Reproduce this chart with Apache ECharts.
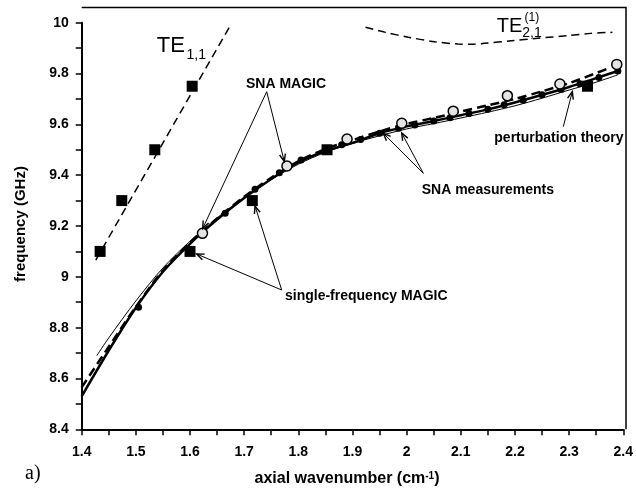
<!DOCTYPE html>
<html><head><meta charset="utf-8">
<script src="https://cdn.jsdelivr.net/npm/echarts@6/dist/echarts.min.js"></script>
<style>html,body{margin:0;padding:0;background:#fff}#c{width:636px;height:490px}</style>
</head><body><div id="c"></div>
<script>
// ---- data ----
const te11Line = [[1.426, 9.066], [1.676, 9.995]];
const te11Squares = [[1.434, 9.10], [1.474, 9.30], [1.535, 9.50], [1.604, 9.75]];
const te21Curve = [[1.924, 9.982], [1.961, 9.962], [2.003, 9.943], [2.052, 9.925], [2.095, 9.916], [2.12, 9.915], [2.144, 9.919], [2.193, 9.929], [2.242, 9.939], [2.298, 9.949], [2.340, 9.958], [2.380, 9.962]];
const measFit = [[1.40, 8.53], [1.45, 8.71], [1.50, 8.878], [1.55, 9.02], [1.60, 9.13], [1.65, 9.225], [1.70, 9.31], [1.75, 9.385], [1.80, 9.45], [1.85, 9.495], [1.90, 9.527], [1.95, 9.565], [2.00, 9.592], [2.05, 9.613], [2.10, 9.636], [2.15, 9.659], [2.20, 9.686], [2.25, 9.716], [2.30, 9.747], [2.35, 9.782], [2.39, 9.81]];
const magicFit = [[1.40, 8.565], [1.45, 8.725], [1.50, 8.882], [1.55, 9.025], [1.60, 9.135], [1.65, 9.23], [1.70, 9.315], [1.75, 9.39], [1.80, 9.455], [1.85, 9.503], [1.90, 9.538], [1.95, 9.572], [2.00, 9.602], [2.05, 9.625], [2.10, 9.65], [2.15, 9.675], [2.20, 9.70], [2.25, 9.73], [2.30, 9.762], [2.37, 9.818]];
const perturbation = [[1.428, 8.69], [1.45, 8.76], [1.50, 8.905], [1.55, 9.035], [1.60, 9.14], [1.65, 9.232], [1.70, 9.312], [1.75, 9.383], [1.80, 9.443], [1.85, 9.49], [1.90, 9.525], [1.95, 9.555], [2.00, 9.582], [2.05, 9.603], [2.10, 9.625], [2.15, 9.648], [2.20, 9.673], [2.25, 9.703], [2.30, 9.735], [2.35, 9.766], [2.39, 9.795]];
const singleFreqMagic = [[1.600, 9.10], [1.715, 9.30], [1.853, 9.50], [2.334, 9.75]];
const snaMeasurements = [[1.505, 8.88], [1.665, 9.25], [1.72, 9.345], [1.765, 9.41], [1.805, 9.46], [1.85, 9.50], [1.88, 9.52], [1.915, 9.54], [1.95, 9.565], [1.985, 9.585], [2.015, 9.597], [2.05, 9.613], [2.08, 9.626], [2.115, 9.643], [2.15, 9.659], [2.18, 9.677], [2.215, 9.695], [2.25, 9.716], [2.285, 9.737], [2.32, 9.76], [2.355, 9.784], [2.39, 9.81]];
const snaMagic = [[1.623, 9.171], [1.779, 9.436], [1.890, 9.542], [1.991, 9.604], [2.086, 9.652], [2.186, 9.713], [2.283, 9.759], [2.388, 9.836]];

const xMin = 1.4, xMax = 2.4, xStep = 0.05;
const yMin = 8.4, yMax = 10, yStep = 0.1;

// ---- helpers ----
const F = '"Liberation Sans", Arial, sans-serif';
function arrow(x1, y1, x2, y2) {
  const a = Math.atan2(y2 - y1, x2 - x1), L = 8, w = 0.38;
  return [
    {type: 'line', z: 100, shape: {x1, y1, x2, y2}, style: {stroke: '#000', lineWidth: 1}},
    {type: 'polyline', z: 100, shape: {points: [[x2 - L * Math.cos(a - w), y2 - L * Math.sin(a - w)], [x2, y2], [x2 - L * Math.cos(a + w), y2 - L * Math.sin(a + w)]]},
     style: {stroke: '#000', lineWidth: 1.4, fill: null}}
  ];
}
function txt(text, x, y, font, extra) {
  return {type: 'text', z: 100, style: Object.assign({text, x, y, font, fill: '#000', verticalAlign: 'middle', align: 'left'}, extra || {})};
}
const isMult = (v, s) => Math.abs(v / s - Math.round(v / s)) < 1e-6;

const chart = echarts.init(document.getElementById('c'), null, {renderer: 'canvas'});
const lineBase = {type: 'line', symbol: 'none', silent: true, animation: false, smooth: 0.3};

chart.setOption({
  animation: false,
  backgroundColor: '#fff',
  grid: {left: 81.7, right: 10, top: 22.7, bottom: 60.7, containLabel: false},
  xAxis: {
    type: 'value', min: xMin, max: xMax, interval: xStep,
    axisLine: {onZero: false, lineStyle: {color: '#000', width: 2}},
    axisTick: {inside: false, length: 6, lineStyle: {color: '#000', width: 1.5}},
    splitLine: {show: false},
    axisLabel: {margin: 16, color: '#000', fontFamily: F, fontWeight: 'bold', fontSize: 14,
      formatter: v => isMult(v, 0.1) ? String(+v.toFixed(1)) : ''}
  },
  yAxis: {
    type: 'value', min: yMin, max: yMax, interval: yStep,
    axisLine: {onZero: false, lineStyle: {color: '#000', width: 2}},
    axisTick: {inside: false, length: 6, lineStyle: {color: '#000', width: 1.5}},
    splitLine: {show: false},
    axisLabel: {margin: 13, color: '#000', fontFamily: F, fontWeight: 'bold', fontSize: 14,
      formatter: v => isMult(v, 0.2) ? String(+v.toFixed(1)) : ''}
  },
  series: [
    Object.assign({}, lineBase, {data: te11Line, smooth: false, lineStyle: {color: '#000', width: 1.5, type: [8, 5]}}),
    Object.assign({}, lineBase, {data: te21Curve, lineStyle: {color: '#000', width: 1.5, type: [8, 5]}}),
    Object.assign({}, lineBase, {data: perturbation, lineStyle: {color: '#000', width: 1}}),
    Object.assign({}, lineBase, {data: measFit, lineStyle: {color: '#000', width: 2.5}}),
    Object.assign({}, lineBase, {data: magicFit, lineStyle: {color: '#000', width: 2.5, type: [9, 5]}}),
    {type: 'scatter', data: te11Squares, symbol: 'rect', symbolSize: 11, itemStyle: {color: '#000', opacity: 1}, silent: true, z: 3},
    {type: 'scatter', data: singleFreqMagic, symbol: 'rect', symbolSize: 11, itemStyle: {color: '#000', opacity: 1}, silent: true, z: 3},
    {type: 'scatter', data: snaMeasurements, symbol: 'circle', symbolSize: 7, itemStyle: {color: '#000', opacity: 1}, silent: true, z: 4},
    {type: 'scatter', data: snaMagic, symbol: 'circle', symbolSize: 10, itemStyle: {color: '#e4e4e4', opacity: 1, borderColor: '#000', borderWidth: 1.5}, silent: true, z: 5}
  ],
  graphic: [].concat(
    [{type: 'polyline', z: 100, shape: {points: [[81.7, 7.5], [626, 7.5], [626, 429.3]]}, style: {stroke: '#000', lineWidth: 1.5, fill: null}}],
    arrow(266.7, 91.7, 202.7, 228.5),
    arrow(266.7, 91.7, 284.3, 161.5),
    arrow(281.7, 290, 196.7, 254),
    arrow(281.7, 290, 255, 206),
    arrow(423.3, 173.3, 383.3, 133.3),
    arrow(423.3, 173.3, 401.7, 133),
    arrow(563.3, 126.7, 572.3, 91.7),
    [
      txt('SNA MAGIC', 246, 84, 'bold 14px ' + F),
      txt('single-frequency MAGIC', 285, 296, 'bold 14px ' + F),
      txt('SNA measurements', 421.7, 190, 'bold 14px ' + F),
      txt('perturbation theory', 494.3, 138, 'bold 14px ' + F),
      txt('TE', 156.7, 45.5, '22px ' + F),
      txt('1,1', 186.5, 55, '14px ' + F),
      txt('TE', 496.7, 26.5, '20px ' + F),
      txt('2,1', 522.3, 33.5, '14px ' + F),
      txt('(1)', 524.5, 17.5, '12px ' + F),
      txt('a)', 25, 474, '20px "Liberation Serif", "Times New Roman", serif'),
      {type: 'text', z: 100, x: 21, y: 224, rotation: Math.PI / 2,
       style: {text: 'frequency (GHz)', font: 'bold 15px ' + F, fill: '#000', align: 'center', verticalAlign: 'middle'}},
      {type: 'text', z: 100,
       style: {x: 347, y: 479, align: 'center', verticalAlign: 'middle', fill: '#000',
         text: '{a|axial wavenumber (cm}{s|-1}{a|)}',
         rich: {a: {font: 'bold 16px ' + F, fill: '#000'}, s: {font: 'bold 10px ' + F, fill: '#000', verticalAlign: 'top'}}}}
    ]
  )
});
</script></body></html>
